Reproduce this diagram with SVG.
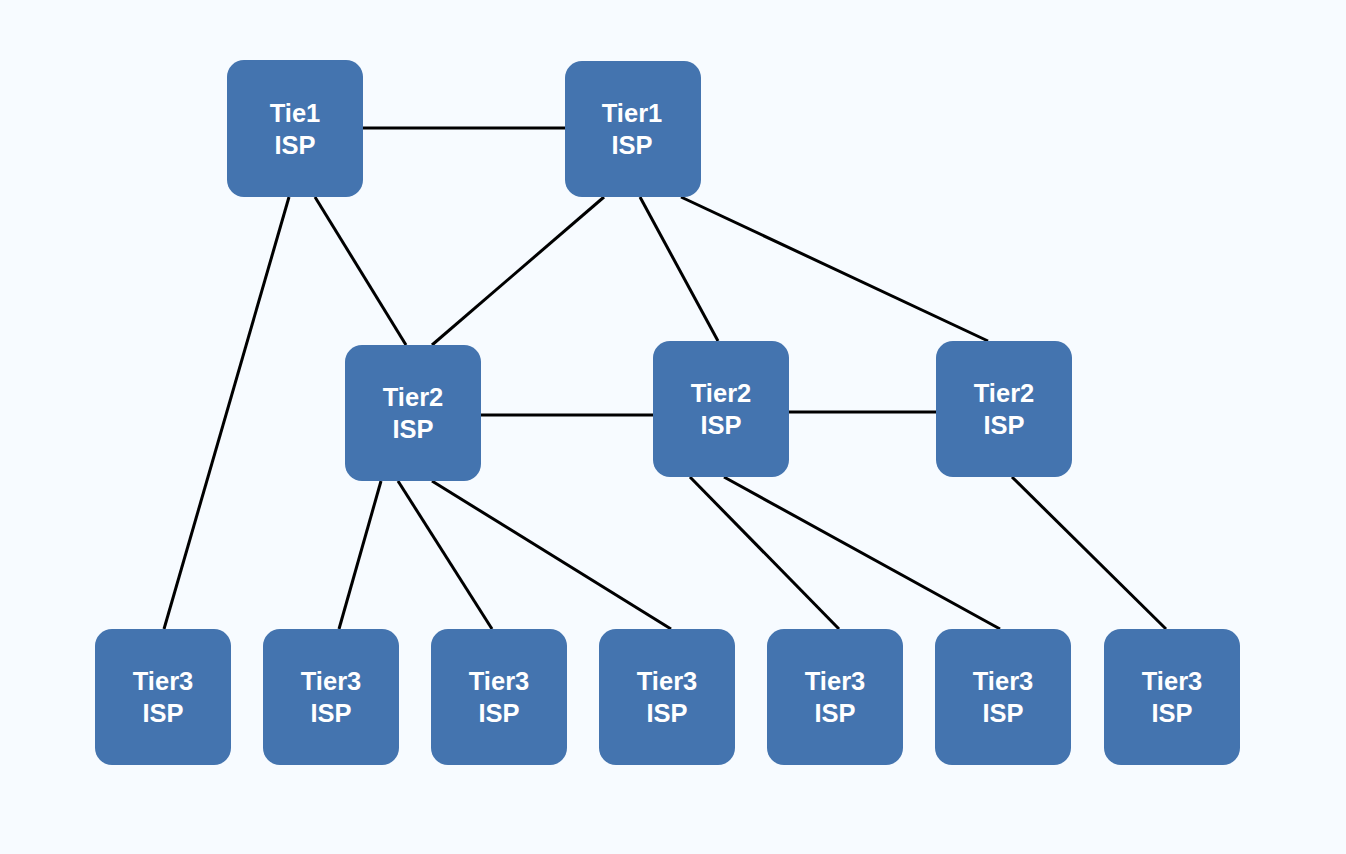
<svg xmlns="http://www.w3.org/2000/svg" width="1346" height="854" viewBox="0 0 1346 854">
<style>
.n{fill:#4474AF;}
.t{fill:#FFFFFF;font-family:"Liberation Sans",Arial,sans-serif;font-weight:bold;font-size:25.5px;text-anchor:middle;}
.c line{stroke:#000;stroke-width:3;stroke-linecap:butt;}
</style>
<rect width="1346" height="854" fill="#F7FBFF"/>
<g class="c" id="connectors">
<line x1="362" y1="128" x2="565" y2="128"/>
<line x1="289" y1="197" x2="164" y2="629"/>
<line x1="315" y1="197" x2="406" y2="345"/>
<line x1="604" y1="197" x2="432" y2="345"/>
<line x1="640" y1="197" x2="718" y2="341"/>
<line x1="681" y1="197" x2="988" y2="341"/>
<line x1="480" y1="415" x2="653" y2="415"/>
<line x1="788" y1="412" x2="936" y2="412"/>
<line x1="381" y1="481" x2="339" y2="629"/>
<line x1="398" y1="481" x2="492" y2="629"/>
<line x1="432" y1="481" x2="671" y2="629"/>
<line x1="690" y1="477" x2="839" y2="629"/>
<line x1="724" y1="477" x2="1000" y2="629"/>
<line x1="1012" y1="477" x2="1166" y2="629"/>
</g>
<g id="tier1a"><rect class="n" x="227" y="60" width="136" height="137" rx="17"/><text class="t" x="295" y="122">Tie1</text><text class="t" x="295" y="154">ISP</text></g>
<g id="tier1b"><rect class="n" x="565" y="61" width="136" height="136" rx="17"/><text class="t" x="632" y="122">Tier1</text><text class="t" x="632" y="154">ISP</text></g>
<g id="tier2a"><rect class="n" x="345" y="345" width="136" height="136" rx="17"/><text class="t" x="413" y="406">Tier2</text><text class="t" x="413" y="438">ISP</text></g>
<g id="tier2b"><rect class="n" x="653" y="341" width="136" height="136" rx="17"/><text class="t" x="721" y="402">Tier2</text><text class="t" x="721" y="434">ISP</text></g>
<g id="tier2c"><rect class="n" x="936" y="341" width="136" height="136" rx="17"/><text class="t" x="1004" y="402">Tier2</text><text class="t" x="1004" y="434">ISP</text></g>
<g id="tier3a"><rect class="n" x="95" y="629" width="136" height="136" rx="17"/><text class="t" x="163" y="690">Tier3</text><text class="t" x="163" y="722">ISP</text></g>
<g id="tier3b"><rect class="n" x="263" y="629" width="136" height="136" rx="17"/><text class="t" x="331" y="690">Tier3</text><text class="t" x="331" y="722">ISP</text></g>
<g id="tier3c"><rect class="n" x="431" y="629" width="136" height="136" rx="17"/><text class="t" x="499" y="690">Tier3</text><text class="t" x="499" y="722">ISP</text></g>
<g id="tier3d"><rect class="n" x="599" y="629" width="136" height="136" rx="17"/><text class="t" x="667" y="690">Tier3</text><text class="t" x="667" y="722">ISP</text></g>
<g id="tier3e"><rect class="n" x="767" y="629" width="136" height="136" rx="17"/><text class="t" x="835" y="690">Tier3</text><text class="t" x="835" y="722">ISP</text></g>
<g id="tier3f"><rect class="n" x="935" y="629" width="136" height="136" rx="17"/><text class="t" x="1003" y="690">Tier3</text><text class="t" x="1003" y="722">ISP</text></g>
<g id="tier3g"><rect class="n" x="1104" y="629" width="136" height="136" rx="17"/><text class="t" x="1172" y="690">Tier3</text><text class="t" x="1172" y="722">ISP</text></g>
</svg>
